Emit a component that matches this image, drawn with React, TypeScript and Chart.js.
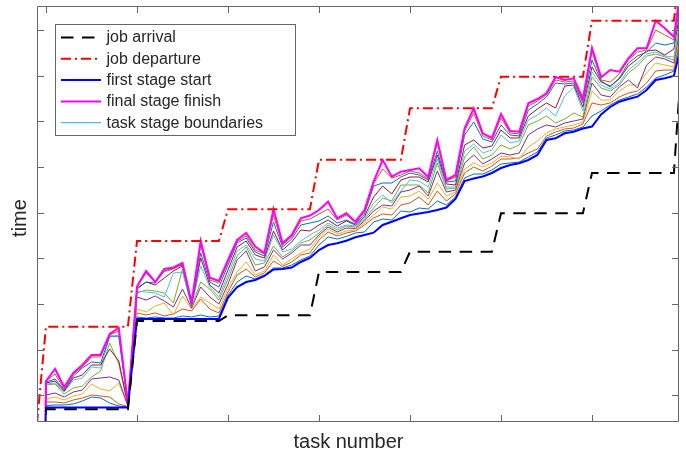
import React, { useEffect, useRef } from "react";
import { Chart, registerables } from "chart.js";
Chart.register(...registerables);

// task index (0 and 71 are the neighbours just outside the visible range)
const TASKS = [
  0, 1, 2, 3, 4, 5, 6, 7, 8, 9, 10, 11, 12, 13, 14, 15, 16, 17, 18, 19, 20,
  21, 22, 23, 24, 25, 26, 27, 28, 29, 30, 31, 32, 33, 34, 35, 36, 37, 38, 39, 40,
  41, 42, 43, 44, 45, 46, 47, 48, 49, 50, 51, 52, 53, 54, 55, 56, 57, 58, 59, 60,
  61, 62, 63, 64, 65, 66, 67, 68, 69, 70, 71,
];

const JOB_ARRIVAL = [
  -600,
  11.7, 11.7, 11.7, 11.7, 11.7, 11.7, 11.7, 11.7, 11.7, 11.7,
  100, 100, 100, 100, 100, 100, 100, 100, 100, 100,
  105.7, 105.7, 105.7, 105.7, 105.7, 105.7, 105.7, 105.7, 105.7, 105.7,
  149, 149, 149, 149, 149, 149, 149, 149, 149, 149,
  169.3, 169.3, 169.3, 169.3, 169.3, 169.3, 169.3, 169.3, 169.3, 169.3,
  207.7, 207.7, 207.7, 207.7, 207.7, 207.7, 207.7, 207.7, 207.7, 207.7,
  248, 248, 248, 248, 248, 248, 248, 248, 248, 248,
  383,
];

const JOB_DEPARTURE = [
  -3,
  94.3, 94.3, 94.3, 94.3, 94.3, 94.3, 94.3, 94.3, 94.3, 94.3,
  180, 180, 180, 180, 180, 180, 180, 180, 180, 180,
  211.7, 211.7, 211.7, 211.7, 211.7, 211.7, 211.7, 211.7, 211.7, 211.7,
  261.3, 261.3, 261.3, 261.3, 261.3, 261.3, 261.3, 261.3, 261.3, 261.3,
  312.7, 312.7, 312.7, 312.7, 312.7, 312.7, 312.7, 312.7, 312.7, 312.7,
  344.3, 344.3, 344.3, 344.3, 344.3, 344.3, 344.3, 344.3, 344.3, 344.3,
  400.3, 400.3, 400.3, 400.3, 400.3, 400.3, 400.3, 400.3, 400.3, 400.3,
  480,
];

const FIRST_STAGE_START = [
  -600,
  13.5, 13.5, 13.5, 13.5, 13.5, 13.5, 13.5, 13.5, 13.5, 13.5,
  102, 102, 102, 102, 102, 102, 102, 102, 102, 102,
  123.5, 134, 139, 141, 145, 151.5, 152, 153.5, 159, 163,
  171, 176, 177.7, 180.3, 183.7, 186, 188.3, 196, 199.3, 202.7,
  206, 207.5, 209, 211, 213.5, 222, 240, 242.5, 244.5, 248,
  253, 256, 257.7, 261, 266, 281, 282.7, 287.7, 289.3, 292.5,
  294.5, 306.5, 314, 319.3, 322, 324.3, 331, 341, 342.7, 345,
  384,
];

const FINAL_STAGE_FINISH = [
  -600,
  40, 52, 34, 48, 56, 66, 66, 87, 93, 17,
  134.5, 150, 139, 152, 153.5, 158, 118.7, 180, 143.3, 140,
  161, 181, 188, 174.5, 168, 212, 177.7, 186, 202.7, 205.5,
  211, 219.3, 202.7, 207.7, 199.3, 211, 239.3, 261, 244.3, 249.3,
  251, 252.7, 244, 281, 241, 246, 292.7, 312.7, 287.7, 283,
  307, 290, 289.3, 317.7, 322, 327.7, 344, 341, 342.7, 322,
  373, 343.7, 351, 349.3, 362.7, 372.7, 372.7, 400.3, 392.7, 384,
  451,
];

const STAGE_1 = [-600,
  15.5, 16, 16, 17, 20, 24, 23, 18, 15, 14,
  104, 103, 104, 103, 103, 105, 104, 106, 104, 105,
  126, 139, 145, 142, 146, 153, 153, 156, 161, 165,
  176, 184, 182, 184.5, 188, 189, 199, 202, 201, 210,
  209, 213, 212, 220, 216, 224, 243, 247, 247, 251,
  257, 258, 259, 264, 269, 283, 286, 290, 291, 294,
  305, 310, 316, 321, 324, 327, 334, 343, 346, 350,
  395];
const STAGE_2 = [-600,
  19, 19, 18, 21, 23, 26, 25, 24, 17, 14.5,
  108, 106, 108, 105, 107, 112, 110, 122, 112, 108,
  129, 146, 152, 144, 148, 160, 154.5, 159, 166, 168,
  181, 189, 185, 188, 190, 196, 203, 207, 206, 216,
  218, 224, 216, 230, 220, 227, 248, 254, 250, 255,
  262, 262, 263, 268, 272, 285, 289, 292, 293, 297,
  318, 316, 318, 324, 328, 330, 338, 350, 351, 351,
  400];
const STAGE_3 = [-600,
  22, 24, 21, 25, 27, 37, 32, 30, 38, 15,
  112, 109, 115, 118, 106, 125, 112, 124, 118, 112,
  133, 149, 159, 146, 150, 166, 156, 162, 168, 172,
  184, 192, 187, 190, 191, 198, 206, 214, 212, 224,
  225, 230, 222, 238, 225, 229, 252, 258, 254, 258,
  265, 264, 262, 274, 280, 288, 292, 294, 296, 299,
  330, 321, 321, 330, 336, 336, 348, 358, 356, 354,
  405];
const STAGE_4 = [-600,
  26, 28, 24, 29, 31, 42, 43, 44, 41, 15,
  124, 121, 125, 120, 114, 132, 113, 134, 124, 117,
  137, 161, 170, 150, 154, 171, 162, 168, 176, 176,
  186, 194, 189, 193, 192.5, 200, 210, 216, 215, 229,
  231, 235, 225, 250, 229, 231, 258, 266, 257, 262,
  268, 266, 268, 286, 292, 296, 294, 298, 300, 302,
  338, 326, 324, 334, 341, 333, 356, 364, 362, 358,
  410];
const STAGE_5 = [-600,
  36, 37, 27, 33, 35, 44, 50, 78, 57, 15.5,
  128, 131, 130, 128, 118, 152, 114, 139, 132, 121,
  142, 165, 174, 156, 158, 175, 164, 170, 178, 181,
  188, 196, 191, 195, 194, 201.5, 213, 223, 220, 236,
  236, 236, 228, 258, 232, 233, 264, 274, 262, 266,
  276, 272, 276, 296, 300, 305, 298, 302, 308, 304,
  344, 333, 330, 336, 348, 355, 365, 367, 364, 361,
  415];
const STAGE_6 = [-600,
  37, 38, 29, 41, 43, 54, 53, 84, 85, 16,
  130, 129, 128, 124, 148, 149, 115, 155, 134, 124,
  146, 170, 176, 162, 160, 186, 169, 172, 180, 186,
  191, 198, 193, 196, 195, 203, 218, 226, 218, 230,
  241, 240, 234, 262, 234, 234, 270, 277, 268, 271,
  286, 278, 280, 301, 306, 313, 305, 325, 334, 310,
  349, 336, 332, 338, 351, 358, 367, 369, 365, 364,
  420];
const STAGE_7 = [-600,
  38, 40, 30, 43, 46, 56, 56, 72, 60, 16,
  132, 139, 136, 143, 150, 155, 116, 163, 136, 128,
  151, 174, 180, 166, 163, 190, 171, 179, 191, 190,
  196, 201, 195, 200, 196, 204.5, 224, 235, 227, 241,
  244, 244, 239, 266, 237, 236, 276, 281, 273, 275,
  291, 283, 283, 305, 312, 318, 313, 335, 336, 314,
  354, 339, 335, 342, 355, 362, 370, 371, 366, 372,
  428];
const STAGE_8 = [-600,
  39, 42, 31, 45, 53, 59, 58, 85, 85, 16.5,
  133, 139, 138, 150, 153, 156, 117, 168, 139, 134,
  156, 178, 183, 169, 165, 199, 174, 182, 196, 198,
  200, 205, 198, 201, 197, 207, 235, 238, 238, 244,
  248, 246, 241, 270, 239, 240, 286, 299, 282, 279,
  296, 286, 285, 311, 317, 324, 338, 337, 338, 318,
  361, 340, 334, 343, 358, 365, 369, 378, 376, 378,
  436];
const STAGE_9 = [-600,
  40, 47, 32, 47, 54, 64, 64, 86, 90, 17,
  134, 148, 139, 149.5, 152, 157, 118, 176, 141, 138,
  159, 179.5, 185, 171, 167, 206, 176, 184, 200, 202,
  207, 212, 201, 206, 198.5, 209, 237.5, 252, 243, 246,
  250, 248, 242, 278, 240, 244, 290, 308, 285, 281,
  303, 288, 287, 315, 320, 326, 341, 339, 340, 320,
  370, 341, 339, 347, 361, 369, 371, 391, 386, 381,
  445];

const STAGES = [STAGE_1, STAGE_2, STAGE_3, STAGE_4, STAGE_5, STAGE_6, STAGE_7, STAGE_8, STAGE_9];
const STAGE_COLORS = ["#0072BD", "#D95319", "#EDB120", "#7E2F8E", "#77AC30", "#4DBEEE", "#A2142F", "#0072BD", "#D95319"];

const X_TICKS = [1, 11, 21, 31, 41, 51, 61];
const Y_TICKS = [25.7, 71.3, 117, 162.6, 208.3, 254, 299.6, 345.3, 391];

const LEGEND_LABELS = ["job arrival", "job departure", "first stage start", "final stage finish", "task stage boundaries"];
const X_TITLE = "task number";
const Y_TITLE = "time";

const FONT = '"Liberation Sans", Arial, Helvetica, sans-serif';
const AXIS_COLOR = "#666666";
const TEXT_COLOR = "#262626";

export default function App() {
  const ref = useRef<HTMLCanvasElement | null>(null);

  useEffect(() => {
    document.body.style.margin = "0";
    const canvas = ref.current;
    if (!canvas) return;

    const pts = (arr: number[]) => TASKS.map((t, i) => ({ x: t, y: arr[i] }));
    const base = { pointRadius: 0, pointHoverRadius: 0, tension: 0, fill: false, clip: 0 } as any;

    const mainSets: any[] = [
      { ...base, label: LEGEND_LABELS[0], data: pts(JOB_ARRIVAL), borderColor: "#000000", borderWidth: 2, borderDash: [12.5, 8.5] },
      { ...base, label: LEGEND_LABELS[1], data: pts(JOB_DEPARTURE), borderColor: "#ff0000", borderWidth: 2, borderDash: [10, 4, 2, 4] },
      { ...base, label: LEGEND_LABELS[2], data: pts(FIRST_STAGE_START), borderColor: "#0000ff", borderWidth: 2 },
      { ...base, label: LEGEND_LABELS[3], data: pts(FINAL_STAGE_FINISH), borderColor: "#ff00ff", borderWidth: 2 },
    ];
    const stageSets: any[] = STAGES.map((s, k) => ({
      ...base,
      label: LEGEND_LABELS[4] + " " + (k + 1),
      data: pts(s),
      borderColor: STAGE_COLORS[k],
      borderWidth: 1,
    })).reverse();

    const legendStyles = [
      { color: "#000000", width: 2, dash: [12.5, 8.5] },
      { color: "#ff0000", width: 2, dash: [10, 4, 2, 4] },
      { color: "#0000ff", width: 2, dash: [] as number[] },
      { color: "#ff00ff", width: 2, dash: [] as number[] },
      { color: "#4DBEEE", width: 1.2, dash: [] as number[] },
    ];

    const deco = {
      id: "matlabDeco",
      afterDraw(chart: any) {
        const ctx = chart.ctx as CanvasRenderingContext2D;
        const a = chart.chartArea;
        const xs = chart.scales.x;
        const ys = chart.scales.y;
        ctx.save();
        // box
        const L = Math.round(a.left) + 0.5;
        const R = Math.round(a.right) + 0.5;
        const T = Math.round(a.top) + 0.5;
        const B = Math.round(a.bottom) + 0.5;
        ctx.strokeStyle = AXIS_COLOR;
        ctx.lineWidth = 1;
        ctx.setLineDash([]);
        ctx.beginPath();
        ctx.rect(L, T, R - L, B - T);
        const tl = 6.5;
        X_TICKS.forEach((t) => {
          const px = Math.round(xs.getPixelForValue(t)) + 0.5;
          ctx.moveTo(px, B); ctx.lineTo(px, B - tl);
          ctx.moveTo(px, T); ctx.lineTo(px, T + tl);
        });
        Y_TICKS.forEach((v) => {
          const py = Math.round(ys.getPixelForValue(v)) + 0.5;
          ctx.moveTo(L, py); ctx.lineTo(L + tl, py);
          ctx.moveTo(R, py); ctx.lineTo(R - tl, py);
        });
        ctx.stroke();

        // axis titles
        ctx.fillStyle = TEXT_COLOR;
        ctx.font = "20px " + FONT;
        ctx.textAlign = "center";
        ctx.textBaseline = "alphabetic";
        ctx.fillText(X_TITLE, 348.5, 447.5);
        ctx.save();
        ctx.translate(25.5, 218);
        ctx.rotate(-Math.PI / 2);
        ctx.fillText(Y_TITLE, 0, 0);
        ctx.restore();

        // legend
        const lx = 55.5, ly = 24.5, lw = 240, lh = 111;
        ctx.fillStyle = "#ffffff";
        ctx.fillRect(lx, ly, lw, lh);
        ctx.strokeStyle = AXIS_COLOR;
        ctx.lineWidth = 1;
        ctx.strokeRect(lx, ly, lw, lh);
        ctx.font = "16px " + FONT;
        ctx.textAlign = "left";
        ctx.textBaseline = "middle";
        LEGEND_LABELS.forEach((lab, i) => {
          const y = 37.5 + i * 21.3;
          const st = legendStyles[i];
          ctx.strokeStyle = st.color;
          ctx.lineWidth = st.width;
          ctx.setLineDash(st.dash);
          ctx.beginPath();
          ctx.moveTo(61, y);
          ctx.lineTo(101, y);
          ctx.stroke();
          ctx.setLineDash([]);
          ctx.fillStyle = TEXT_COLOR;
          ctx.fillText(lab, 106.5, y + 0.5);
        });
        ctx.restore();
      },
    };

    const chart = new Chart(canvas, {
      type: "line",
      data: { datasets: [...mainSets, ...stageSets] },
      options: {
        animation: false,
        responsive: false,
        maintainAspectRatio: false,
        events: [],
        layout: { padding: { left: 37.3, right: 8, top: 6, bottom: 32 } },
        plugins: { legend: { display: false }, tooltip: { enabled: false }, title: { display: false } },
        scales: {
          x: { type: "linear", min: 0.044, max: 70.45, display: false },
          y: { type: "linear", min: 0, max: 415, display: false },
        },
      },
      plugins: [deco],
    } as any);

    return () => chart.destroy();
  }, []);

  return (
    <div style={{ width: 686, height: 453, background: "#ffffff" }}>
      <canvas ref={ref} width={686} height={453} style={{ display: "block", width: 686, height: 453 }} />
    </div>
  );
}
